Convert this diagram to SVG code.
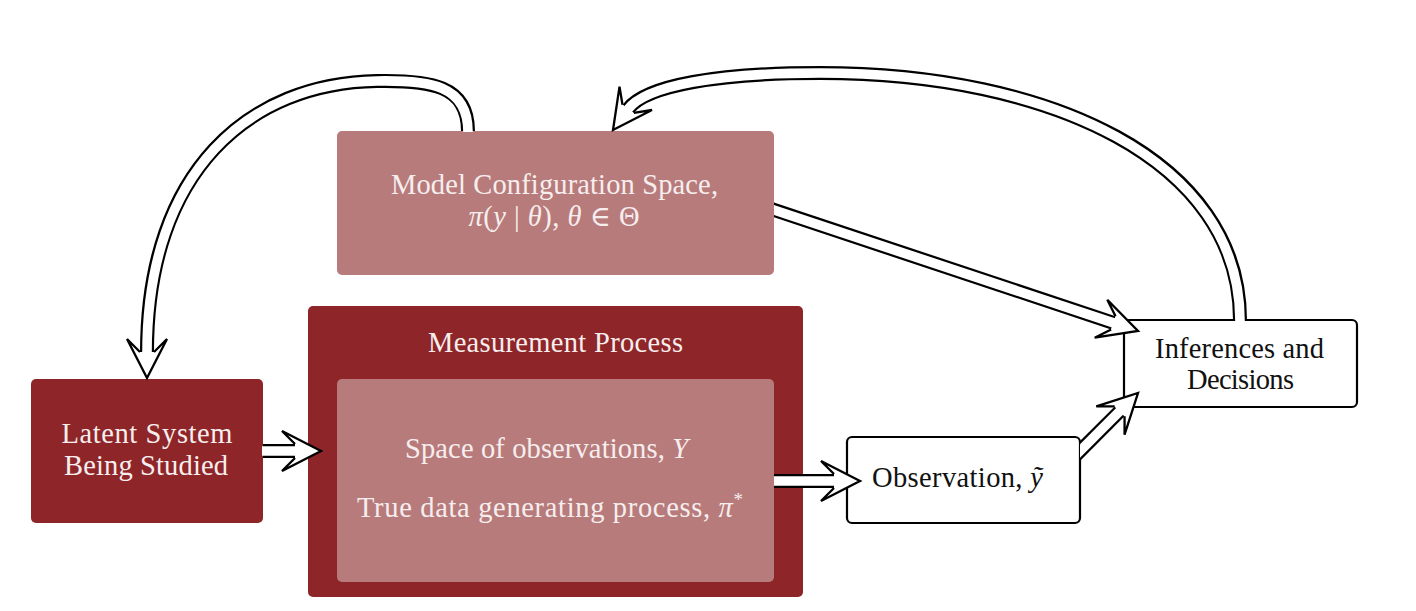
<svg xmlns="http://www.w3.org/2000/svg" xmlns:xlink="http://www.w3.org/1999/xlink" width="1416" height="611" viewBox="0 0 1416 611">
<style>
.dark{fill:#8E2528}
.light{fill:#B87B7B}
.white{fill:#fff;stroke:#000;stroke-width:2.2}
.o{fill:none;stroke:#000;stroke-width:14}
.i{fill:none;stroke:#fff;stroke-width:9.6}
text{font-family:"Liberation Serif","DejaVu Serif",serif;font-size:28.5px;text-anchor:middle}
.w{fill:#F6EEEE}
.k{fill:#111}
.it{font-style:italic}
</style>
<defs>
<g id="ah">
<path d="M0,0 L-39,-20 L-26,-7 L-26,7 L-39,20 Z" fill="#fff"/>
<path d="M-26,-7 L-39,-20 L0,0 L-39,20 L-26,7" fill="none" stroke="#000" stroke-width="2.3" stroke-linejoin="miter"/>
</g>
<clipPath id="c4"><rect x="774" y="0" width="642" height="611"/></clipPath>
<clipPath id="c3"><rect x="1080" y="0" width="336" height="611"/></clipPath>
</defs>
<rect width="1416" height="611" fill="#fff"/>

<g id="model">
<rect class="light" x="337" y="131" width="437" height="144" rx="5"/>
<text class="w" x="554.5" y="194" textLength="327">Model Configuration Space,</text>
<text class="w" x="554" y="226" textLength="171"><tspan class="it">π</tspan>(<tspan class="it">y</tspan> | <tspan class="it">θ</tspan>), <tspan class="it">θ</tspan> ∈ Θ</text>
</g>

<g id="measurement">
<rect class="dark" x="308" y="306" width="495" height="291" rx="5"/>
<text class="w" x="555.5" y="352" textLength="255">Measurement Process</text>
<rect class="light" x="337" y="379" width="437" height="203" rx="5"/>
<text class="w" x="546.5" y="458" textLength="283">Space of observations, <tspan class="it">Y</tspan></text>
<text class="w" x="550" y="517" textLength="386">True data generating process, <tspan class="it">π</tspan><tspan font-size="19" dy="-11">*</tspan></text>
</g>

<g id="latent">
<rect class="dark" x="31" y="379" width="232" height="144" rx="5"/>
<text class="w" x="147" y="443" textLength="171">Latent System</text>
<text class="w" x="146" y="475" textLength="164">Being Studied</text>
</g>

<g id="observation">
<rect class="white" x="847" y="437" width="233" height="86" rx="5"/>
<text class="k" x="957.5" y="487" textLength="171">Observation, <tspan class="it">ỹ</tspan></text>
</g>

<g id="inferences">
<rect class="white" x="1124" y="320" width="233" height="87" rx="5"/>
<text class="k" x="1239.5" y="358" textLength="169">Inferences and</text>
<text class="k" x="1240.5" y="389" textLength="107">Decisions</text>
</g>

<g id="connectors">
<path class="o" d="M263,451 H295"/>
<path class="i" d="M262,451 H296"/>
<use xlink:href="#ah" transform="translate(321,451)"/>

<path class="o" d="M774,481 H834"/>
<path class="i" d="M774,481 H835"/>
<use xlink:href="#ah" transform="translate(860,481)"/>

<g clip-path="url(#c3)">
<path class="o" d="M1070,461 L1119.6,411.4"/>
<path class="i" d="M1069,462 L1120.3,410.7"/>
</g>
<use xlink:href="#ah" transform="translate(1138,393) rotate(-45)"/>

<g clip-path="url(#c4)">
<path class="o" d="M760,205.3 L1113.3,322.8"/>
<path class="i" d="M759,205 L1114.2,323.1"/>
</g>
<use xlink:href="#ah" transform="translate(1138,331) rotate(18.4)"/>

<path class="o" d="M468,131 C468,85 430,80 377,81 C250,83 147,170 147,352"/>
<path class="i" d="M468,132 C468,85 430,80 377,81 C250,83 147,170 147,353"/>
<use xlink:href="#ah" transform="translate(147,378) rotate(90)"/>

<path class="o" d="M1240,320 C1240,160 1050,73 820,73 C720,73 646,85 628.2,108.9"/>
<path class="i" d="M1240,321 C1240,160 1050,73 820,73 C720,73 646,85 627.6,109.7"/>
<use xlink:href="#ah" transform="translate(613,130) rotate(125.7)"/>
</g>
</svg>
